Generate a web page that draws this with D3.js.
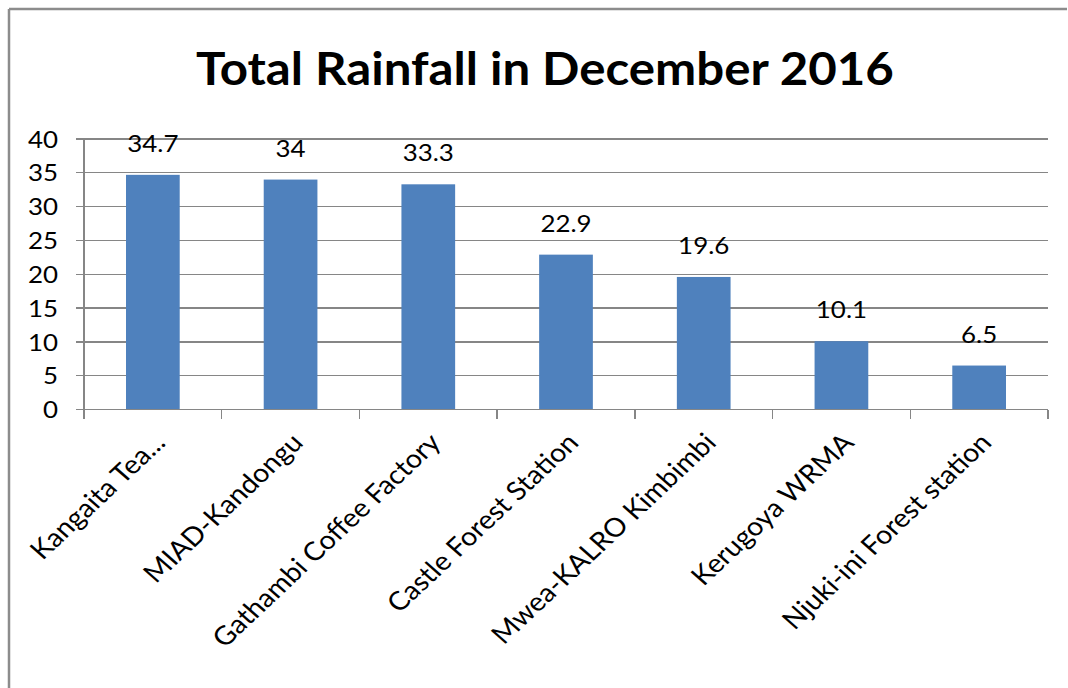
<!DOCTYPE html>
<html>
  <head>
    <meta charset="utf-8">
    <title>Total Rainfall in December 2016</title>
    <script src="https://d3js.org/d3.v7.min.js" charset="utf-8"></script>
    <style>
      body{
        margin: 0;
        overflow: hidden;
        background: white;
        font-family: 'Lato', sans-serif;
      }
      svg{
        display: block;
      }
      .axis-line, .grid line, .tick-mark{
        stroke: #868686;
        stroke-width: 1.3px;
        shape-rendering: crispEdges;
      }
      .frame{
        stroke: #8c8c8c;
        stroke-width: 2.5px;
      }
      text{
        fill: #000;
      }
    </style>
  </head>
  <body>
    <div id="chart"></div>
    <script>

    //data
    var stations = ["Kangaita Tea...", "MIAD-Kandongu", "Gathambi Coffee Factory", "Castle Forest Station",
                    "Mwea-KALRO Kimbimbi", "Kerugoya WRMA", "Njuki-ini Forest station"];
    var rainfall = [34.7, 34, 33.3, 22.9, 19.6, 10.1, 6.5];
    var yTicks = [0, 5, 10, 15, 20, 25, 30, 35, 40];
    var title = "Total Rainfall in December 2016";

    //layout
    var width = 1068,
        height = 688,
        margin = {top: 139, right: 20, bottom: 278.5, left: 84};

    var svg = d3.select("#chart").append("svg").attr("width", width).attr("height", height);

    // chart frame: only top and left edges show in the original
    svg.append("line").attr("class", "frame")
        .attr("x1", 9).attr("x2", width - 1).attr("y1", 9).attr("y2", 9);
    svg.append("line").attr("class", "frame")
        .attr("x1", 9).attr("x2", 9).attr("y1", 9).attr("y2", height);

    var x = d3.scaleBand().domain(stations)
        .range([margin.left, width - margin.right])
        .paddingInner(0.61)
        .paddingOuter(0.305);

    var y = d3.scaleLinear().domain([0, 40]).range([height - margin.bottom, margin.top]);

    var x0 = x.range()[0], x1 = x.range()[1], y0 = y(0);
    var sx = 1.08; // text in the original looks a bit stretched sideways

    // title
    svg.append("text")
        .attr("transform", `translate(545,85) scale(1.07,1)`)
        .attr("text-anchor", "middle")
        .style("font-size", "46px")
        .style("font-weight", 700)
        .text(title);

    // gridlines
    svg.append("g").attr("class", "grid")
        .selectAll("line")
        .data(yTicks.filter(d => d > 0))
        .join("line")
        .attr("x1", x0).attr("x2", x1)
        .attr("y1", d => y(d)).attr("y2", d => y(d));

    // y axis
    svg.append("line").attr("class", "axis-line")
        .attr("x1", x0).attr("x2", x0)
        .attr("y1", y(40)).attr("y2", y0 + 9);

    svg.append("g").selectAll("line")
        .data(yTicks).join("line").attr("class", "tick-mark")
        .attr("x1", x0 - 8).attr("x2", x0)
        .attr("y1", d => y(d)).attr("y2", d => y(d));

    svg.append("g").selectAll("text")
        .data(yTicks).join("text")
        .attr("transform", d => `translate(58,${y(d)}) scale(${sx},1)`)
        .attr("dy", "0.36em")
        .attr("text-anchor", "end")
        .style("font-size", "24px")
        .text(d => d);

    // bars
    svg.append("g").selectAll("rect")
        .data(rainfall).join("rect")
        .attr("x", (d, i) => x(stations[i]))
        .attr("y", d => y(d))
        .attr("width", x.bandwidth())
        .attr("height", d => y0 - y(d))
        .attr("fill", "#4F81BD");

    // x axis
    svg.append("line").attr("class", "axis-line")
        .attr("x1", x0).attr("x2", x1)
        .attr("y1", y0).attr("y2", y0);

    svg.append("g").selectAll("line")
        .data(d3.range(stations.length + 1)).join("line").attr("class", "tick-mark")
        .attr("x1", i => x0 + i * x.step()).attr("x2", i => x0 + i * x.step())
        .attr("y1", y0).attr("y2", y0 + 9);

    // data labels
    svg.append("g").selectAll("text")
        .data(rainfall).join("text")
        .attr("transform", (d, i) => `translate(${x(stations[i]) + x.bandwidth() / 2},${y(d) - 23}) scale(${sx},1)`)
        .attr("text-anchor", "middle")
        .style("font-size", "24px")
        .text(d => d);

    // category labels, rotated
    svg.append("g").selectAll("text")
        .data(stations).join("text")
        .attr("transform", d => `translate(${x(d) + x.bandwidth() / 2 + 14},444) scale(1.1,1) rotate(-46)`)
        .attr("text-anchor", "end")
        .style("font-size", "26px")
        .text(d => d);

    </script>
  </body>
</html>
